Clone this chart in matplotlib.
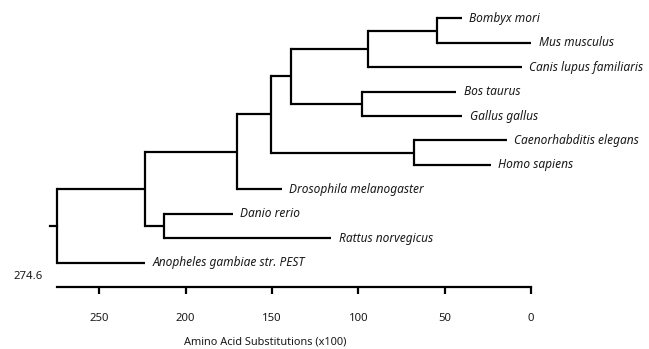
import matplotlib
matplotlib.use('Agg')
import matplotlib.pyplot as plt

# leaves, top to bottom, and their tip positions (amino acid substitutions x100)
taxa = ["Bombyx mori", "Mus musculus", "Canis lupus familiaris", "Bos taurus",
        "Gallus gallus", "Caenorhabditis elegans", "Homo sapiens",
        "Drosophila melanogaster", "Danio rerio", "Rattus norvegicus",
        "Anopheles gambiae str. PEST"]
tip_dist = [40.1, 0.0, 5.4, 43.4, 39.8, 14.1, 23.3, 144.4, 172.7, 115.8, 223.5]

# internal nodes: name, height, two children
clade_names = ["F", "E", "G", "D", "H", "C", "B", "I", "A", "root"]
clade_height = [54.3, 94.6, 97.7, 139.2, 67.6, 150.6, 170.4, 212.4, 223.5, 274.6]
clade_children = [("Bombyx mori", "Mus musculus"),
                  ("F", "Canis lupus familiaris"),
                  ("Bos taurus", "Gallus gallus"),
                  ("E", "G"),
                  ("Caenorhabditis elegans", "Homo sapiens"),
                  ("D", "H"),
                  ("C", "Drosophila melanogaster"),
                  ("Danio rerio", "Rattus norvegicus"),
                  ("B", "I"),
                  ("A", "Anopheles gambiae str. PEST")]

root_height = 274.6
scale_ticks = [250, 200, 150, 100, 50, 0]

plt.rcParams['font.family'] = ['Noto Sans', 'DejaVu Sans']
fs = 8.6

fig = plt.figure(figsize=(6.49, 3.49), dpi=100)
ax = fig.add_axes([0, 0, 1, 1])

pos_x = {}
pos_y = {}
for i, name in enumerate(taxa):
    pos_x[name] = tip_dist[i]
    pos_y[name] = i
for name, h, (a, b) in zip(clade_names, clade_height, clade_children):
    pos_x[name] = h
    pos_y[name] = (pos_y[a] + pos_y[b]) / 2

lw = 1.6
for name, h, kids in zip(clade_names, clade_height, clade_children):
    ys = [pos_y[k] for k in kids]
    ax.plot([h, h], [min(ys), max(ys)], color='black', lw=lw, solid_capstyle='projecting')
    for k in kids:
        ax.plot([h, pos_x[k]], [pos_y[k], pos_y[k]], color='black', lw=lw,
                solid_capstyle='butt')

# root stub
ax.plot([root_height, root_height + 3.9], [pos_y["root"], pos_y["root"]],
        color='black', lw=lw)

for name in taxa:
    ax.annotate(name, (pos_x[name], pos_y[name]), xytext=(5.5, 0),
                textcoords='offset points', va='center', ha='left',
                fontsize=fs, style='italic', color='#1a1a1a')

ax.text(291.0, 10.55, f"{root_height}", fontsize=8.2, ha='center', va='center',
        color='#1a1a1a')

k = 1.7268
ax.set_xlim(531 / k, -(649 - 531) / k)
ax.set_ylim((349 - 18.3) / 24.43, -18.3 / 24.43)

for s in ['top', 'left', 'right']:
    ax.spines[s].set_visible(False)
ax.spines['bottom'].set_position(('data', 11.0))
ax.spines['bottom'].set_bounds(0, root_height)
ax.spines['bottom'].set_linewidth(1.6)
ax.set_yticks([])
ax.set_xticks(scale_ticks)
ax.set_xticklabels([str(t) for t in scale_ticks])
ax.tick_params(axis='x', direction='out', length=5, width=1.6, pad=13.5,
               labelsize=8.2, labelcolor='#1a1a1a')
ax.set_xlabel("Amino Acid Substitutions (x100)", fontsize=7.9, color='#1a1a1a')
ax.xaxis.set_label_coords(265 / 649, 1 - 342 / 349)
ax.xaxis.label.set_va('center')
ax.patch.set_alpha(0)

fig.savefig("out.png", dpi=100)
plt.close(fig)
